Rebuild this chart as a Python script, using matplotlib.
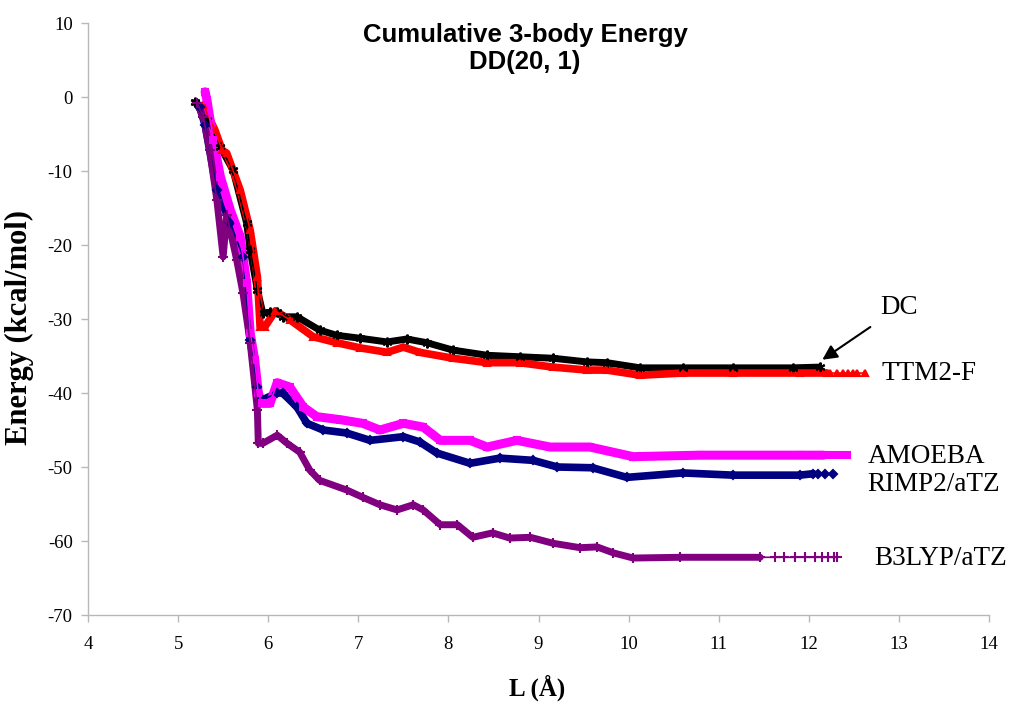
import numpy as np
import matplotlib
matplotlib.use("Agg")
import matplotlib.pyplot as plt

plt.rcParams["axes.unicode_minus"] = False

# ---------------- data ----------------
dc_x = [5.19, 5.32, 5.47, 5.61, 5.76, 5.80, 5.88, 5.94, 6.02, 6.10, 6.16, 6.32, 6.57, 6.76,
        7.02, 7.32, 7.54, 7.76, 8.05, 8.43, 8.79, 9.16, 9.54, 9.76, 10.13, 10.60, 11.16,
        11.82, 12.12]
dc_y = [-0.7, -3.1, -6.8, -9.9, -17.0, -20.7, -26.1, -29.2, -29.1, -29.1, -29.7, -29.7, -31.5,
        -32.2, -32.6, -33.1, -32.7, -33.2, -34.2, -34.9, -35.1, -35.3, -35.8, -35.9, -36.6,
        -36.6, -36.6, -36.6, -36.5]

ttm_x = [5.28, 5.41, 5.49, 5.54, 5.69, 5.80, 5.88, 5.91, 5.96, 6.08, 6.24, 6.50, 6.76, 7.02,
         7.32, 7.50, 7.68, 8.05, 8.43, 8.79, 9.16, 9.54, 9.76, 10.13, 10.60, 11.16, 11.90,
         12.20, 12.24, 12.31, 12.38, 12.43, 12.49, 12.54, 12.62]
ttm_y = [-1.1, -4.5, -7.2, -7.6, -12.6, -18.0, -24.3, -31.1, -31.1, -28.9, -30.1, -32.4,
         -33.2, -33.9, -34.5, -33.8, -34.5, -35.3, -35.9, -35.9, -36.5, -36.9, -36.9, -37.6,
         -37.3, -37.3, -37.3, -37.3, -37.3, -37.3, -37.3, -37.3, -37.3, -37.3, -37.3]

amoeba_x = [5.30, 5.32, 5.39, 5.47, 5.58, 5.69, 5.76, 5.80, 5.85, 5.89, 5.93, 6.02, 6.10,
            6.24, 6.39, 6.54, 6.80, 7.05, 7.24, 7.50, 7.72, 7.91, 8.24, 8.43, 8.76, 9.13,
            9.57, 10.05, 10.79, 11.90, 12.16, 12.20, 12.27, 12.35, 12.42]
amoeba_y = [0.7, -0.4, -5.8, -10.8, -15.3, -18.9, -25.1, -31.9, -35.5, -40.0, -41.4, -41.4,
            -38.6, -39.2, -41.9, -43.2, -43.6, -44.1, -45.0, -44.1, -44.6, -46.4, -46.4,
            -47.3, -46.4, -47.3, -47.3, -48.6, -48.4, -48.4, -48.4, -48.4, -48.4, -48.4, -48.4]

rimp2_x = [5.24, 5.30, 5.43, 5.58, 5.72, 5.80, 5.88, 5.91, 5.94, 6.10, 6.16, 6.32, 6.43,
           6.61, 6.87, 7.13, 7.50, 7.68, 7.87, 8.24, 8.57, 8.94, 9.21, 9.60, 9.98, 10.60,
           11.16, 11.90, 12.05, 12.10, 12.18, 12.27]
rimp2_y = [-1.4, -3.8, -12.6, -17.0, -21.6, -32.8, -39.2, -40.9, -40.9, -40.0, -40.0, -41.9,
           -44.1, -45.0, -45.4, -46.4, -45.9, -46.6, -48.1, -49.5, -48.8, -49.1, -50.0,
           -50.1, -51.4, -50.8, -51.1, -51.1, -50.9, -50.9, -50.9, -50.9]

b3lyp_x = [5.21, 5.28, 5.35, 5.43, 5.50, 5.54, 5.65, 5.72, 5.80, 5.88, 5.89, 5.94, 6.10,
           6.21, 6.35, 6.46, 6.57, 6.87, 7.05, 7.24, 7.43, 7.61, 7.72, 7.91, 8.10, 8.27,
           8.49, 8.68, 8.91, 9.16, 9.46, 9.65, 9.83, 10.05, 10.57, 11.46, 11.62, 11.73,
           11.85, 11.96, 12.07, 12.15, 12.21, 12.28, 12.31]
b3lyp_y = [-0.8, -2.7, -7.2, -13.9, -21.6, -15.9, -22.0, -26.5, -33.2, -42.3, -46.8, -46.8,
           -45.7, -46.8, -48.0, -50.4, -51.8, -53.1, -54.1, -55.1, -55.8, -55.1, -55.8,
           -57.8, -57.8, -59.5, -58.9, -59.6, -59.5, -60.3, -60.9, -60.8, -61.6, -62.3,
           -62.2, -62.2, -62.2, -62.2, -62.2, -62.2, -62.2, -62.2, -62.2, -62.2, -62.2]

x_ticks = [4, 5, 6, 7, 8, 9, 10, 11, 12, 13, 14]
y_ticks = [-70, -60, -50, -40, -30, -20, -10, 0, 10]

title_lines = ["Cumulative 3-body Energy", "DD(20, 1)"]
x_label = "L (Å)"
y_label = "Energy (kcal/mol)"

# ---------------- figure ----------------
serif = ["Liberation Serif", "DejaVu Serif"]
sans = ["Liberation Sans", "DejaVu Sans"]

fig = plt.figure(figsize=(10.15, 7.04), dpi=100)
ax = fig.add_axes([0.0867, 0.1264, 0.8877, 0.8409])
ax.set_xlim(4, 14)
ax.set_ylim(-70, 10)

series = [
    # x, y, color, marker, ms, band lw, band end
    (dc_x, dc_y, "#000000", (6, 2, 0), 7, 5.0, 12.12),
    (ttm_x, ttm_y, "#ff0000", "^", 5, 5.5, 12.20),
    (rimp2_x, rimp2_y, "#000080", "D", 4.5, 5.5, 12.05),
    (amoeba_x, amoeba_y, "#ff00ff", "s", 5, 6.5, 12.16),
    (b3lyp_x, b3lyp_y, "#800080", "+", 7, 5.0, 11.46),
]
for xs, ys, col, mk, ms, blw, bend in series:
    xs = np.asarray(xs)
    ys = np.asarray(ys)
    band = xs <= bend
    ax.plot(xs[band], ys[band], color=col, lw=blw, solid_joinstyle="round",
            solid_capstyle="round", zorder=2)
    ax.plot(xs, ys, color=col, lw=1.2, marker=mk, ms=ms, mew=1.5,
            mec=col, mfc=col, zorder=3)

for s in ["top", "right"]:
    ax.spines[s].set_visible(False)
for s in ["left", "bottom"]:
    ax.spines[s].set_color("#b8b8b8")
    ax.spines[s].set_linewidth(1.0)

ax.set_xticks(x_ticks)
ax.set_yticks(y_ticks)
ax.tick_params(axis="both", direction="out", length=5, width=1, color="#b8b8b8",
               labelsize=13.5, labelcolor="black")
ax.tick_params(axis="x", pad=10)
ax.tick_params(axis="y", pad=6)
for lab in ax.get_xticklabels() + ax.get_yticklabels():
    lab.set_family(serif)

# titles & labels
fig.text(525 / 1015, 1 - 35 / 704, title_lines[0], ha="center", va="center",
         fontsize=18.5, fontweight="bold", family=sans)
fig.text(525 / 1015, 1 - 62 / 704, title_lines[1], ha="center", va="center",
         fontsize=18.5, fontweight="bold", family=sans)
fig.text(537 / 1015, 1 - 688 / 704, x_label, ha="center", va="center",
         fontsize=18, fontweight="bold", family=serif)
fig.text(19 / 1015, 1 - 328 / 704, y_label, ha="center", va="center", rotation=90,
         fontsize=22, fontweight="bold", family=serif)

# series annotations
lab_fs = 19.5
ax.annotate("DC", xy=(12.15, -35.5), xytext=(12.79, -28.5), ha="left", va="center",
            fontsize=lab_fs, family=serif, annotation_clip=False,
            arrowprops=dict(arrowstyle="-|>", color="black", lw=1.5, mutation_scale=22,
                            shrinkA=6, shrinkB=0, relpos=(0.0, 0.0)))
ax.text(12.81, -37.3, "TTM2-F", ha="left", va="center", fontsize=lab_fs, family=serif,
        clip_on=False)
ax.text(12.65, -48.6, "AMOEBA", ha="left", va="center", fontsize=lab_fs, family=serif,
        clip_on=False)
ax.text(12.65, -52.3, "RIMP2/aTZ", ha="left", va="center", fontsize=lab_fs, family=serif,
        clip_on=False)
ax.text(12.73, -62.3, "B3LYP/aTZ", ha="left", va="center", fontsize=lab_fs, family=serif,
        clip_on=False)

fig.savefig("out.png", dpi=100)
